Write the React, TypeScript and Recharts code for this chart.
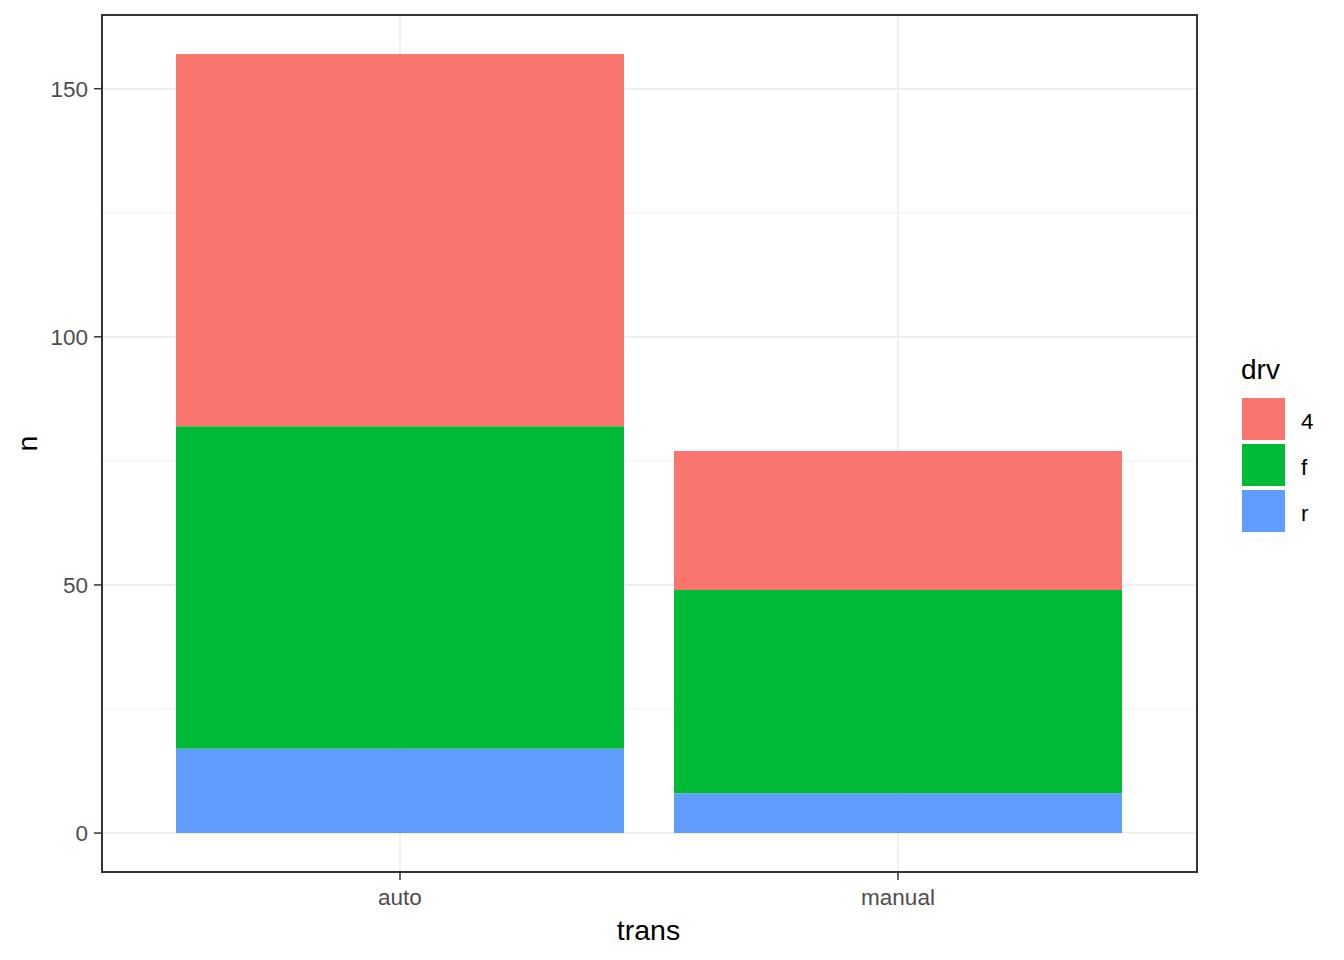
import { Bar, BarChart, CartesianGrid, XAxis, YAxis } from 'recharts';

// mpg: count of cars by transmission, stacked by drive train
const categories = ['auto', 'manual'];
const drvLevels = ['4', 'f', 'r'];
const count4 = [75, 28];
const countF = [65, 41];
const countR = [17, 8];
const majorTicks = [0, 50, 100, 150];
const minorTicks = [25, 75, 125];

const drvColors: Record<string, string> = { '4': '#F8766D', f: '#00BA38', r: '#619CFF' };

const data = categories.map((trans, i) => ({
  trans,
  r: countR[i],
  f: countF[i],
  '4': count4[i],
}));

// ggplot-style 5% expansion around [0, max total]
const maxTotal = Math.max(...data.map((d) => d.r + d.f + d['4']));
const yDomain = [-maxTotal * 0.05, maxTotal * 1.05];

const FONT = '"Liberation Sans", Arial, sans-serif';

function DrvLegend() {
  return (
    <div style={{ position: 'absolute', left: 1241, top: 353, fontFamily: FONT }}>
      <div style={{ fontSize: 28, lineHeight: '34px', color: '#000', marginBottom: 9 }}>drv</div>
      {drvLevels.map((lvl) => (
        <div key={lvl} style={{ display: 'flex', alignItems: 'center', height: 46 }}>
          <div style={{ width: 43, height: 42, background: drvColors[lvl], marginLeft: 1 }} />
          <span style={{ marginLeft: 16, paddingTop: 5, fontSize: 22.5, color: '#000' }}>{lvl}</span>
        </div>
      ))}
    </div>
  );
}

export default function App() {
  return (
    <div style={{ position: 'absolute', left: 0, top: 0, width: 1344, height: 960, background: '#fff' }}>
      <BarChart
        width={1344}
        height={960}
        data={data}
        margin={{ top: 15, right: 147, bottom: 48, left: 42 }}
        style={{ fontFamily: FONT }}
      >
        <CartesianGrid
          horizontalValues={minorTicks}
          vertical={false}
          stroke="#EBEBEB"
          strokeWidth={0.8}
        />
        <CartesianGrid horizontalValues={majorTicks} stroke="#EBEBEB" strokeWidth={1.5} />
        <XAxis
          dataKey="trans"
          height={40}
          padding={{ left: 49, right: 50 }}
          axisLine={false}
          tickSize={8}
          tickMargin={9}
          tickLine={{ stroke: '#333333', strokeWidth: 1.5 }}
          tick={{ fill: '#4D4D4D', fontSize: 22.5 }}
          label={{
            value: 'trans',
            content: (props: any) => {
              const vb = props.viewBox;
              return (
                <text x={vb.x + vb.width / 2 - 1} y={vb.y + 68} textAnchor="middle" fontSize={28.5} fill="#000">
                  trans
                </text>
              );
            },
          }}
        />
        <YAxis
          width={60}
          domain={yDomain}
          ticks={majorTicks}
          axisLine={false}
          tickSize={8}
          tickMargin={6}
          tickLine={{ stroke: '#333333', strokeWidth: 1.5 }}
          tick={{ fill: '#4D4D4D', fontSize: 22.5 }}
          label={{
            value: 'n',
            content: (props: any) => {
              const vb = props.viewBox;
              const x = vb.x + vb.width - 65;
              const y = vb.y + vb.height / 2;
              return (
                <text x={x} y={y} transform={`rotate(-90, ${x}, ${y})`} textAnchor="middle" fontSize={28.5} fill="#000">
                  n
                </text>
              );
            },
          }}
        />
        <Bar dataKey="r" stackId="drv" fill={drvColors.r} barSize={448} isAnimationActive={false} />
        <Bar dataKey="f" stackId="drv" fill={drvColors.f} barSize={448} isAnimationActive={false} />
        <Bar dataKey="4" stackId="drv" fill={drvColors['4']} barSize={448} isAnimationActive={false} />
      </BarChart>
      {/* panel border (theme_bw) */}
      <div
        style={{
          position: 'absolute',
          left: 101,
          top: 14,
          width: 1097,
          height: 859,
          boxSizing: 'border-box',
          border: '2px solid #333333',
          pointerEvents: 'none',
        }}
      />
      <DrvLegend />
    </div>
  );
}
